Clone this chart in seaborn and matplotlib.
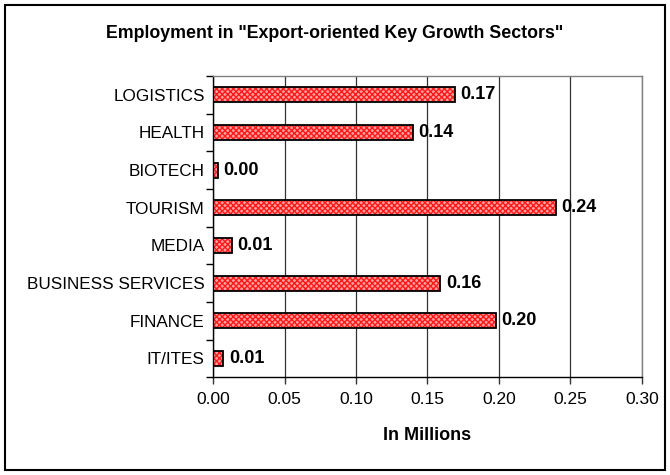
import matplotlib
matplotlib.use("Agg")
import matplotlib.pyplot as plt
import seaborn as sns
import pandas as pd
from matplotlib.patches import Rectangle
from matplotlib.ticker import MultipleLocator, FixedLocator

# values (in millions)
sectors = ["LOGISTICS", "HEALTH", "BIOTECH", "TOURISM", "MEDIA",
           "BUSINESS SERVICES", "FINANCE", "IT/ITES"]
employment = [0.169, 0.140, 0.0035, 0.240, 0.0133, 0.159, 0.198, 0.0073]

df = pd.DataFrame({"sector": sectors, "employment": employment})

sns.set_style("white")
plt.rcParams["font.family"] = ["Liberation Sans", "DejaVu Sans"]
plt.rcParams["hatch.linewidth"] = 1.0
for key in ["text.color", "axes.labelcolor", "xtick.color", "ytick.color"]:
    plt.rcParams[key] = "black"

fig, ax = plt.subplots(figsize=(6.7, 4.75), dpi=100)
fig.subplots_adjust(left=0.318, right=0.958, top=0.84, bottom=0.206)

# hatched red fill
sns.barplot(data=df, y="sector", x="employment", order=sectors, orient="h",
            color="#ffa0a0", saturation=1, width=0.4, edgecolor="#ff1a1a",
            hatch="xxxxxx", linewidth=0, ax=ax)
# black outline on top
sns.barplot(data=df, y="sector", x="employment", order=sectors, orient="h",
            fill=False, width=0.4, edgecolor="black", linewidth=1.3,
            ax=ax)

ax.bar_label(ax.containers[0], fmt="%.2f", padding=4,
             fontsize=13, fontweight="bold")

ax.set_xlim(0, 0.30)
ax.set_ylim(len(sectors) - 0.5, -0.5)
ax.xaxis.set_major_locator(MultipleLocator(0.05))
ax.xaxis.set_major_formatter(matplotlib.ticker.FormatStrFormatter("%.2f"))
ax.xaxis.grid(True, color="#333333", linewidth=0.9)
ax.set_axisbelow(True)

ax.yaxis.set_minor_locator(FixedLocator([i - 0.5 for i in range(len(sectors) + 1)]))
ax.tick_params(axis="y", which="major", length=0, pad=6, labelsize=12.3)
ax.tick_params(axis="y", which="minor", length=5, width=1, color="black",
               direction="out", left=True)
ax.tick_params(axis="x", which="major", length=5, width=1, color="#333333",
               direction="out", bottom=True, labelsize=12.5, pad=6)

ax.set_ylabel("")
ax.set_xlabel("In Millions", fontsize=13, fontweight="bold", labelpad=14)

for side in ["left", "bottom"]:
    ax.spines[side].set_color("black")
    ax.spines[side].set_linewidth(1)
for side in ["top", "right"]:
    ax.spines[side].set_color("#808080")
    ax.spines[side].set_linewidth(1)

fig.text(0.5, 1 - 33 / 475, 'Employment in "Export-oriented Key Growth Sectors"',
         ha="center", va="center", fontsize=12.8, fontweight="bold")

fig.patches.append(Rectangle((5 / 670, 5 / 475), 660 / 670, 465 / 475,
                             transform=fig.transFigure, fill=False,
                             edgecolor="black", linewidth=1.5))

fig.savefig("out.png", dpi=100)
